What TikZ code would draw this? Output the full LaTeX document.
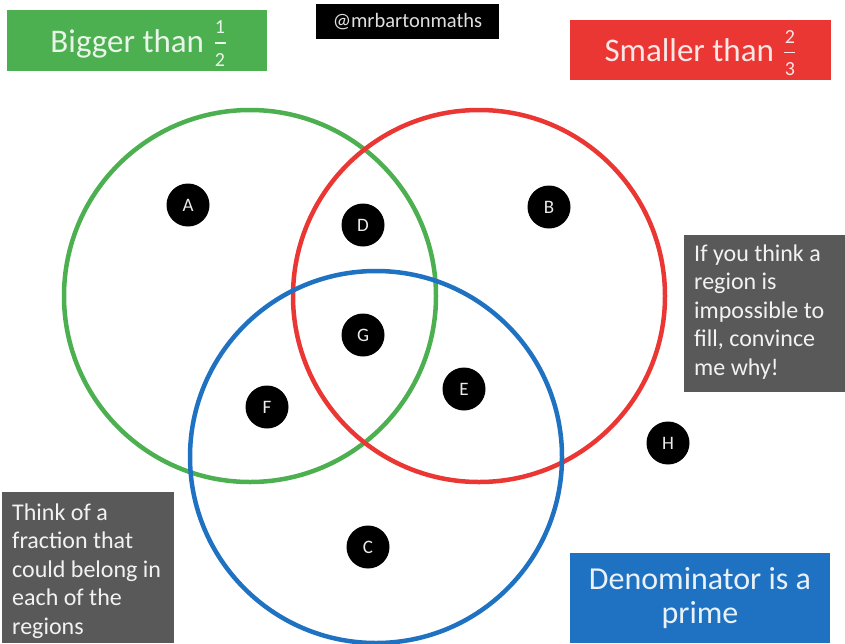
\documentclass[tikz,border=0pt]{standalone}
\usepackage{fontspec}
\setmainfont{Carlito}
\definecolor{vgreen}{RGB}{76,175,80}
\definecolor{vred}{RGB}{234,55,52}
\definecolor{vblue}{RGB}{31,113,194}
\definecolor{vgrey}{RGB}{89,89,89}
\newcommand{\vfrac}[2]{\hspace{3pt}\raisebox{-14pt}{\fontsize{20}{20}\selectfont\vbox{\hbox to 11pt{\hss#1\hss}\kern8.4pt\hrule height 1.3pt\kern9.4pt\hbox to 11pt{\hss#2\hss}}}}
\begin{document}
\begin{tikzpicture}[x=1pt,y=-1pt,
  labelbox/.style={rectangle, inner sep=0pt, font=\fontsize{32}{34}\selectfont},
  ring/.style={circle, draw, line width=4.5pt, minimum size=372pt, inner sep=0pt},
  dot/.style={circle, fill=black, minimum size=43pt, inner sep=0pt, text=white!92!black, font=\fontsize{19}{19}\selectfont},
  notebox/.style={rectangle, fill=vgrey, inner sep=0pt},
  notetext/.style={anchor=north west, inner sep=0pt, align=left, text=white!95!black, font=\fontsize{24}{28.5}\selectfont}
]
\useasboundingbox (0,0) rectangle (845,643);

% label boxes
\node[rectangle, fill=vgreen, minimum width=260pt, minimum height=61pt] (gbox) at (137,40.5) {};
\node[anchor=base, inner sep=0pt, text=white!88!vgreen, font=\fontsize{33}{35}\selectfont] (gtext) at (138,52) {Bigger than \vfrac{1}{2}};
\node[rectangle, fill=vred, minimum width=261pt, minimum height=60pt] (rbox) at (700.5,50) {};
\node[anchor=base, inner sep=0pt, text=white!88!vred, font=\fontsize{33}{35}\selectfont] (rtext) at (700,61.5) {Smaller than \vfrac{2}{3}};
\node[rectangle, fill=black, text=white!88!black, inner sep=0pt, minimum width=183pt, minimum height=35pt, font=\fontsize{20.5}{22}\selectfont] (tag) at (407.5,21.5) {@mrbartonmaths};
\node[labelbox, fill=vblue, text=white!90!vblue, align=center, minimum width=260pt, minimum height=90pt] (bbox) at (700,598) {Denominator is a\\prime};

% rings
\node[ring, draw=vgreen] (gring) at (250,296) {};
\node[ring, draw=vred] (rring) at (479,296) {};
\node[ring, draw=vblue] (bring) at (376,457) {};

% dots
\node[dot] (A) at (188,205) {A};
\node[dot] (B) at (549,207) {B};
\node[dot] (D) at (363,225) {D};
\node[dot] (G) at (363,335) {G};
\node[dot] (E) at (464,389) {E};
\node[dot] (F) at (267,407) {F};
\node[dot] (C) at (368,547) {C};
\node[dot] (H) at (668,443) {H};

% note boxes
\node[notebox, minimum width=161pt, minimum height=157pt] (rnote) at (764.5,313.5) {};
\node[notetext] (rnotetext) at (694,243) {\rule{0pt}{18pt}If you think a\\region is\\impossible to\\fill, convince\\me why!};
\node[notebox, minimum width=172pt, minimum height=151pt] (lnote) at (88,567.5) {};
\node[notetext] (lnotetext) at (12,502) {\rule{0pt}{18pt}Think of a\\fraction that\\could belong in\\each of the\\regions};
\end{tikzpicture}
\end{document}
